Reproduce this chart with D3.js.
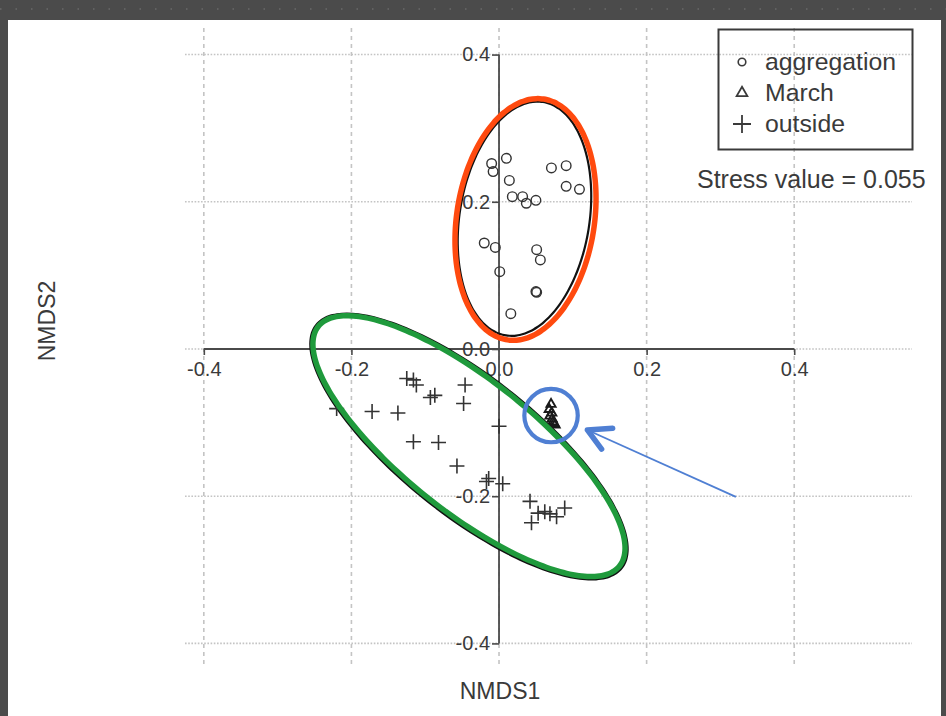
<!DOCTYPE html>
<html>
<head>
<meta charset="utf-8">
<script src="https://cdn.jsdelivr.net/npm/d3@7/dist/d3.min.js"></script>
<style>
  html, body { margin: 0; padding: 0; background: #4b4b4b; }
  svg { display: block; }
  text { font-family: "Liberation Sans", Arial, sans-serif; fill: #3a3a3a; }
</style>
</head>
<body>
<svg id="chart" width="946" height="716"></svg>
<script>
// NMDS site scores, one array per group
const aggregation = [
  [0.010, 0.259], [-0.010, 0.252], [-0.008, 0.241], [0.014, 0.229],
  [0.071, 0.246], [0.091, 0.249], [0.091, 0.221], [0.109, 0.217],
  [0.018, 0.207], [0.032, 0.207], [0.037, 0.198], [0.050, 0.202],
  [-0.020, 0.144], [-0.005, 0.138], [0.051, 0.135], [0.056, 0.121],
  [0.001, 0.105], [0.050, 0.078], [0.051, 0.077], [0.016, 0.048]
];
const march = [
  [0.0705, -0.075], [0.068, -0.082], [0.0715, -0.087], [0.069, -0.091],
  [0.072, -0.095], [0.073, -0.099], [0.076, -0.103], [0.0745, -0.101]
];
const outside = [
  [-0.125, -0.040], [-0.116, -0.042], [-0.112, -0.049], [-0.046, -0.049],
  [-0.087, -0.063], [-0.093, -0.066], [-0.048, -0.074], [-0.220, -0.081],
  [-0.172, -0.085], [-0.137, -0.087], [0.000, -0.105], [-0.116, -0.126],
  [-0.082, -0.127], [-0.057, -0.159], [-0.014, -0.176], [-0.017, -0.180],
  [0.005, -0.183], [0.042, -0.207], [0.089, -0.216], [0.053, -0.223],
  [0.062, -0.221], [0.069, -0.224], [0.078, -0.228], [0.044, -0.236]
];

const tickValues = [-0.4, -0.2, 0.0, 0.2, 0.4];
const tickLabels = ["-0.4", "-0.2", "0.0", "0.2", "0.4"];
const legendLabels = ["aggregation", "March", "outside"];
const stressLabel = "Stress value = 0.055";
const xTitle = "NMDS1";
const yTitle = "NMDS2";

// group ellipses: centre, semi-axes (data units), major-axis angle (degrees)
const ellipseAggregation = { cx: 0.0359, cy: 0.176, a: 0.1654, b: 0.0934, angle: 81.5 };
const ellipseAggregationBase = { cx: 0.0345, cy: 0.177, a: 0.1605, b: 0.0880, angle: 81.0 };
const ellipseOutside = { cx: -0.0407, cy: -0.132, a: 0.261, b: 0.0895, angle: -38.6 };
const ellipseOutsideBase = { cx: -0.0407, cy: -0.1325, a: 0.2645, b: 0.0930, angle: -38.6 };
// highlight around the March samples and its pointer
const marchRing = { cx: 0.0705, cy: -0.0904, r: 0.0362 };
const pointerShaft = [[0.321, -0.201], [0.1197, -0.110]];
const pointerHead = [[0.154, -0.1077], [0.1197, -0.110], [0.139, -0.136]];

const svg = d3.select("#chart");

// page panel
svg.append("rect").attr("x", 0).attr("y", 0).attr("width", 946).attr("height", 716).attr("fill", "#4b4b4b");
svg.append("line").attr("x1", 0).attr("x2", 946).attr("y1", 9).attr("y2", 9)
  .attr("stroke", "#6a6a6a").attr("stroke-width", 1.5).attr("stroke-dasharray", "1.5,14");
svg.append("rect").attr("x", 8).attr("y", 20).attr("width", 933).attr("height", 696).attr("fill", "#ffffff");

const x = d3.scaleLinear().domain([-0.4255, 0.5596]).range([185, 912]);
const y = d3.scaleLinear().domain([-0.4334, 0.4361]).range([668, 28]);

// dotted grid
const grid = svg.append("g");
grid.selectAll("line.h").data(tickValues).join("line")
  .attr("x1", x(-0.4255)).attr("x2", x(0.5596))
  .attr("y1", d => y(d)).attr("y2", d => y(d))
  .attr("stroke", "#c4c4c4").attr("stroke-width", 1.6).attr("stroke-dasharray", "1.6,1.6");
grid.selectAll("line.v").data(tickValues).join("line")
  .attr("x1", d => x(d)).attr("x2", d => x(d))
  .attr("y1", y(0.4361)).attr("y2", y(-0.4334))
  .attr("stroke", "#c4c4c4").attr("stroke-width", 1.6).attr("stroke-dasharray", "4,4");

// axes crossing at the origin
const xAxis = d3.axisBottom(x).tickValues(tickValues).tickSize(6).tickFormat((d, i) => tickLabels[i]);
const yAxis = d3.axisLeft(y).tickValues(tickValues).tickSize(7).tickFormat((d, i) => tickLabels[i]);

const gx = svg.append("g").attr("transform", `translate(0,${y(0)})`).call(xAxis);
const gy = svg.append("g").attr("transform", `translate(${x(0)},0)`).call(yAxis);
[gx, gy].forEach(g => {
  g.select(".domain").attr("stroke", "#4a4a4a").attr("stroke-width", 1.8);
  g.selectAll(".tick line").attr("stroke", "#4a4a4a").attr("stroke-width", 1.6);
  g.selectAll(".tick text").attr("font-size", 20).attr("fill", "#444")
    .style("font-family", "'Liberation Sans', Arial, sans-serif");
});
gx.select(".domain").attr("d", `M${x(-0.4)},0H${x(0.4)}`);
gy.select(".domain").attr("d", `M0,${y(0.4)}V${y(-0.4)}`);
gx.selectAll(".tick").filter(d => d === 0).select("line").remove();
gx.selectAll(".tick text").attr("y", 13);
gy.selectAll(".tick text").attr("x", -9);

// axis titles
svg.append("text").attr("x", x(0) + 1).attr("y", 699).attr("text-anchor", "middle")
  .attr("font-size", 23).attr("fill", "#444").text(xTitle);
svg.append("text").attr("transform", `translate(55,${y(0) - 28}) rotate(-90)`)
  .attr("text-anchor", "middle").attr("font-size", 23).attr("fill", "#444").text(yTitle);

// ellipse outline helper in data space
function ellipsePath(e) {
  const th = e.angle * Math.PI / 180;
  const pts = d3.range(0, 361, 3).map(t => {
    const r = t * Math.PI / 180;
    const u = e.a * Math.cos(r), v = e.b * Math.sin(r);
    return [x(e.cx + u * Math.cos(th) - v * Math.sin(th)), y(e.cy + u * Math.sin(th) + v * Math.cos(th))];
  });
  return d3.line().curve(d3.curveCardinalClosed)(pts.slice(0, -1));
}

svg.append("path").attr("d", ellipsePath(ellipseAggregationBase))
  .attr("fill", "none").attr("stroke", "#111").attr("stroke-width", 2.2);
svg.append("path").attr("d", ellipsePath(ellipseOutsideBase))
  .attr("fill", "none").attr("stroke", "#111").attr("stroke-width", 2.6);

// points
const pts = svg.append("g").attr("fill", "none").attr("stroke", "#333").attr("stroke-width", 1.4);
pts.selectAll("circle").data(aggregation).join("circle")
  .attr("cx", d => x(d[0])).attr("cy", d => y(d[1])).attr("r", 4.8);
const tri = d3.symbol().type(d3.symbolTriangle).size(36);
pts.selectAll("path.tri").data(march).join("path").attr("class", "tri")
  .attr("transform", d => `translate(${x(d[0])},${y(d[1])})`).attr("d", tri)
  .attr("stroke", "#1a1a1a").attr("stroke-width", 1.9);
pts.selectAll("path.plus").data(outside).join("path").attr("class", "plus")
  .attr("transform", d => `translate(${x(d[0])},${y(d[1])})`)
  .attr("d", "M-7.5,0H7.5M0,-7.5V7.5").attr("stroke-width", 1.6);

// group ellipses
svg.append("path").attr("d", ellipsePath(ellipseAggregation))
  .attr("fill", "none").attr("stroke", "#ff4a0f").attr("stroke-width", 5.5);
svg.append("path").attr("d", ellipsePath(ellipseOutside))
  .attr("fill", "none").attr("stroke", "#1f9a3c").attr("stroke-width", 5.5);

// March highlight and pointer
svg.append("circle").attr("cx", x(marchRing.cx)).attr("cy", y(marchRing.cy))
  .attr("r", x(marchRing.cx + marchRing.r) - x(marchRing.cx))
  .attr("fill", "none").attr("stroke", "#4f7fd3").attr("stroke-width", 4.2);
svg.append("path").attr("d", d3.line().x(d => x(d[0])).y(d => y(d[1]))(pointerShaft))
  .attr("fill", "none").attr("stroke", "#4f7fd3").attr("stroke-width", 1.8);
svg.append("path").attr("d", d3.line().x(d => x(d[0])).y(d => y(d[1]))(pointerHead))
  .attr("fill", "none").attr("stroke", "#4f7fd3").attr("stroke-width", 5.5)
  .attr("stroke-linecap", "round").attr("stroke-linejoin", "round");

// legend
const legend = svg.append("g");
legend.append("rect").attr("x", 718.5).attr("y", 29.5).attr("width", 194).attr("height", 120)
  .attr("fill", "none").attr("stroke", "#3a3a3a").attr("stroke-width", 2);
const rowY = [62, 93, 124];
legend.append("circle").attr("cx", 742).attr("cy", rowY[0]).attr("r", 3.8)
  .attr("fill", "none").attr("stroke", "#3a3a3a").attr("stroke-width", 1.6);
legend.append("path").attr("transform", `translate(742,${rowY[1]})`)
  .attr("d", d3.symbol().type(d3.symbolTriangle).size(50)())
  .attr("fill", "none").attr("stroke", "#3a3a3a").attr("stroke-width", 1.8);
legend.append("path").attr("transform", `translate(742,${rowY[2]})`)
  .attr("d", "M-9,0H9M0,-9V9").attr("fill", "none").attr("stroke", "#3a3a3a").attr("stroke-width", 1.8);
legend.selectAll("text").data(legendLabels).join("text")
  .attr("x", 765).attr("y", (d, i) => rowY[i] + 8).attr("font-size", 24.8).attr("fill", "#3a3a3a").text(d => d);

svg.append("text").attr("x", 697).attr("y", 188).attr("font-size", 25).attr("fill", "#3a3a3a").text(stressLabel);
</script>
</body>
</html>
